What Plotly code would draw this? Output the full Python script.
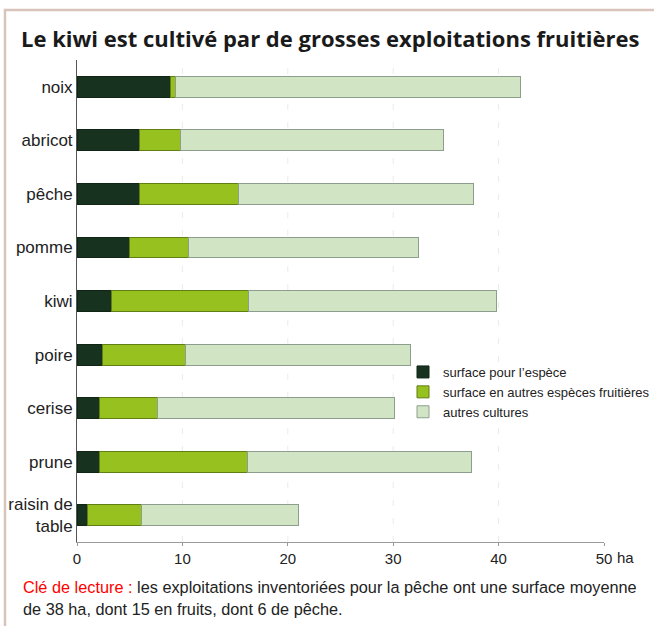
import plotly.graph_objects as go

categories = ["noix", "abricot", "pêche", "pomme", "kiwi", "poire", "cerise", "prune", "raisin de<br>table"]
surface_espece = [8.9, 5.9, 5.9, 5.0, 3.3, 2.4, 2.1, 2.1, 1.0]
surface_autres_fruits = [0.45, 3.9, 9.4, 5.6, 13.0, 7.9, 5.5, 14.05, 5.1]
autres_cultures = [32.7, 25.0, 22.3, 21.8, 23.5, 21.3, 22.5, 21.3, 14.9]
series_names = ["surface pour l’espèce", "surface en autres espèces fruitières", "autres cultures"]
tick_vals = [0, 10, 20, 30, 40, 50]
tick_text = ["0", "10", "20", "30", "40", "50"]
grid_vals = [10, 20, 30, 40]

W, H = 654, 626
L, R, T, B = 77, 50, 60, 84
pw, ph = W - L - R, H - T - B

def px_x(p):
    return (p - L) / pw

def px_y(p):
    return (H - B - p) / ph

colors = ["#173320", "#97c11f", "#d1e5c4"]
lines = ["#0f2414", "#617e14", "#8e9e8e"]
values = [surface_espece, surface_autres_fruits, autres_cultures]

fig = go.Figure()

# light dashed grid lines (none at 50)
for g in grid_vals:
    fig.add_shape(type="line", xref="x", yref="paper", x0=g, x1=g, y0=0, y1=1,
                  line=dict(color="#ebebeb", width=1, dash="6px,12px"), layer="below")

for name, vals, c, lc in zip(series_names, values, colors, lines):
    fig.add_trace(go.Bar(
        y=categories, x=vals, name=name, orientation="h",
        marker=dict(color=c, line=dict(color=lc, width=1)),
        width=0.39,
    ))

font_main = "Liberation Sans, Arial, sans-serif"

fig.update_layout(
    width=W, height=H,
    margin=dict(l=L, r=R, t=T, b=B, autoexpand=False),
    barmode="stack",
    plot_bgcolor="white", paper_bgcolor="white",
    font=dict(family=font_main, color="#222222"),
    showlegend=True,
    legend=dict(
        x=403 / W, y=1 - 357 / H, xref="container", yref="container",
        xanchor="left", yanchor="top",
        traceorder="normal", font=dict(size=13, family=font_main, color="#222"),
        bgcolor="rgba(0,0,0,0)", itemwidth=30, tracegroupgap=0,
    ),
    title=dict(
        text="<b>Le kiwi est cultivé par de grosses exploitations fruitières</b>",
        x=21 / W, xref="container", xanchor="left",
        y=1 - 39 / H, yref="container", yanchor="middle",
        font=dict(family="Open Sans, sans-serif", size=22, color="#1a1a1a"),
    ),
    xaxis=dict(
        range=[0, 50], tickvals=tick_vals, ticktext=tick_text,
        showgrid=False,
        showline=True, linecolor="#9a9a9a", linewidth=1,
        ticks="outside", ticklen=3, tickcolor="#9a9a9a",
        tickfont=dict(size=15, family=font_main, color="#222"),
        zeroline=False, fixedrange=True, automargin=False,
    ),
    yaxis=dict(
        autorange="reversed",
        showline=True, linecolor="#555555", linewidth=1,
        ticks="", tickfont=dict(size=17, family=font_main, color="#222"),
        ticklabelstandoff=0, showgrid=False, fixedrange=True, automargin=False,
    ),
)

# "ha" unit after 50
fig.add_annotation(
    x=50, y=px_y(557), xref="x", yref="paper", yanchor="middle", xanchor="left",
    text="ha", showarrow=False, xshift=11,
    font=dict(size=15, family=font_main, color="#222"),
)

# footer
fig.add_annotation(
    x=px_x(21), y=px_y(587), xref="paper", yref="paper", xanchor="left", yanchor="middle",
    text="<span style='color:#ff0000'>Clé de lecture :</span> les exploitations inventoriées pour la pêche ont une surface moyenne",
    showarrow=False, font=dict(size=16.3, family=font_main, color="#222"), align="left",
)
fig.add_annotation(
    x=px_x(21), y=px_y(609), xref="paper", yref="paper", xanchor="left", yanchor="middle",
    text="de 38 ha, dont 15 en fruits, dont 6 de pêche.",
    showarrow=False, font=dict(size=16.3, family=font_main, color="#222"), align="left",
)

# frame (left and top border)
frame_color = "#d9c4bc"
fx = px_x(5)
fy = px_y(10)
fb = px_y(700)
fr = px_x(700)
fig.add_shape(type="path", xref="paper", yref="paper",
              path=f"M {fx},{fb} L {fx},{fy} L {fr},{fy}",
              line=dict(color=frame_color, width=2.5))

fig.write_html(
    "out.html",
    config={"displayModeBar": False},
    post_script="document.body.style.margin='0';document.body.style.overflow='hidden';",
)
